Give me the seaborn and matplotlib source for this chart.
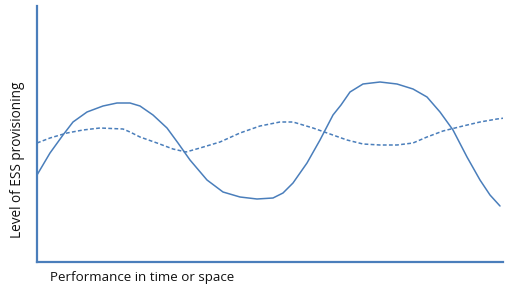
import pandas as pd
import seaborn as sns
import matplotlib.pyplot as plt

# values (arbitrary units)
solid_x = [0, 13, 26, 36, 50, 66, 80, 93, 103, 116, 130, 141, 153, 170, 186,
           203, 220, 236, 246, 256, 270, 283, 296, 304, 313, 326, 343, 360,
           376, 390, 403, 416, 430, 443, 453, 463]
solid_y = [87, 109, 127, 140, 150, 156, 159, 159, 156, 147, 134, 119, 102, 82,
           70, 65, 63, 64, 69, 79, 99, 122, 147, 157, 170, 178, 180, 178,
           173, 165, 150, 132, 105, 82, 67, 56]
dashed_x = [0, 13, 30, 46, 63, 86, 93, 103, 120, 136, 149, 163, 183, 203, 223,
            243, 256, 276, 293, 310, 326, 343, 360, 376, 390, 406, 426, 443,
            460, 468]
dashed_y = [119, 124, 129, 132, 134, 133, 130, 125, 119, 113, 110, 114, 120,
            129, 136, 140, 140, 134, 128, 122, 118, 117, 117, 119, 125, 131,
            136, 140, 143, 144]

blue = "#4A7EBB"

df = pd.concat([
    pd.DataFrame({"x": solid_x, "y": solid_y, "series": "solid"}),
    pd.DataFrame({"x": dashed_x, "y": dashed_y, "series": "dashed"}),
])

sns.set_style("white")
plt.rcParams['font.family'] = ['Open Sans', 'DejaVu Sans']

fig = plt.figure(figsize=(5.06, 2.9), dpi=100)
ax = fig.add_axes([37/506, 28/290, 466/506, 256/290])
sns.lineplot(data=df, x="x", y="y", style="series", color=blue,
             dashes={"solid": "", "dashed": (2.5, 1.5)}, linewidth=1.1,
             legend=False, ax=ax)

ax.set_xlim(0, 466)
ax.set_ylim(0, 256)
ax.set_xticks([])
ax.set_yticks([])
ax.set_xlabel("")
ax.set_ylabel("")
for s in ["top", "right"]:
    ax.spines[s].set_visible(False)
for s in ["left", "bottom"]:
    ax.spines[s].set_color(blue)
    ax.spines[s].set_linewidth(1.6)

fig.text(50/506, 1 - 278/290, "Performance in time or space", fontsize=9.6,
         ha="left", va="center", color="#111111")
fig.text(18/506, 1 - 160/290, "Level of ESS provisioning", fontsize=9.8,
         rotation=90, ha="center", va="center", color="#111111")

fig.savefig("out.png", dpi=100)
